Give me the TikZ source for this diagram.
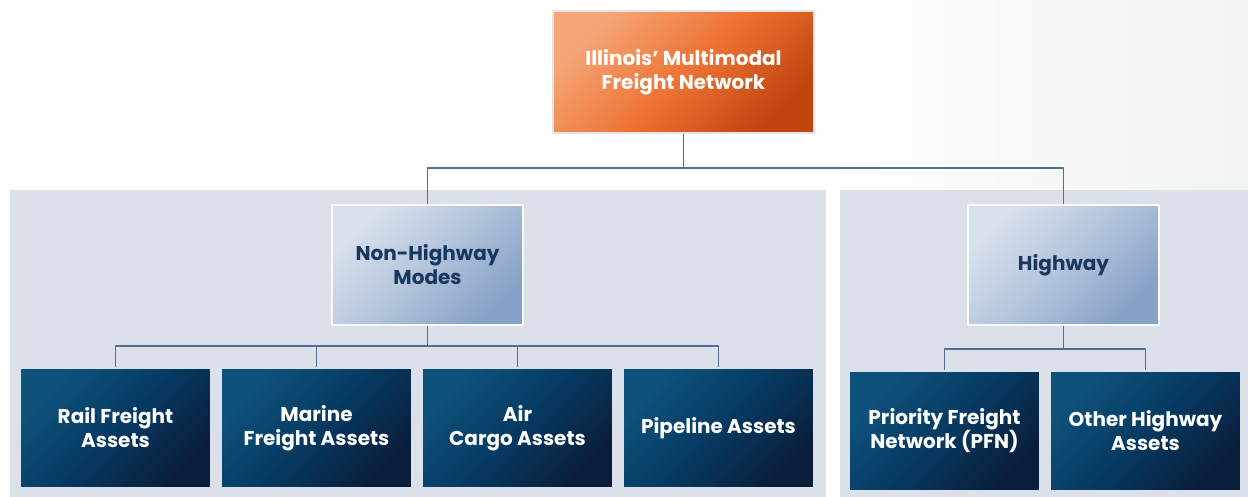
\documentclass[tikz,border=0pt]{standalone}
\usepackage{fontspec}
\setmainfont{Poppins}
\usepackage{tikz}
\usetikzlibrary{shapes,arrows}
\usetikzlibrary{positioning}
\definecolor{orangeA}{HTML}{F5A678}
\definecolor{orangeB}{HTML}{EE7434}
\definecolor{orangeC}{HTML}{BF440E}
\definecolor{steelA}{HTML}{D9E1EC}
\definecolor{steelB}{HTML}{B3C4DB}
\definecolor{steelC}{HTML}{86A2C8}
\definecolor{navyA}{HTML}{0E527B}
\definecolor{navyB}{HTML}{063A62}
\definecolor{navyC}{HTML}{0A1D3A}
\definecolor{panelgray}{HTML}{DCE1E9}
\definecolor{linkblue}{HTML}{4F6F97}
\definecolor{textnavy}{HTML}{17375E}
\definecolor{mintwhite}{HTML}{EFF4F0}

\begin{document}
\begin{tikzpicture}
    [line cap=round,line join=round,x=1pt,y=-1pt,
     box/.style={rectangle,draw=white!80!gray,line width=1.2pt,align=center,
        minimum width=191pt,minimum height=120pt,inner sep=2pt,
        font=\fontsize{20}{24}\selectfont\bfseries},
     rootbox/.style={box,minimum width=261pt,minimum height=122pt,text=white,
        top color=orangeA,bottom color=orangeC,middle color=orangeB,shading angle=45},
     modebox/.style={box,draw=white!85!steelA,text=textnavy,
        top color=steelA,bottom color=steelC,middle color=steelB,shading angle=45},
     assetbox/.style={box,draw=steelA,text=white,
        top color=navyA,bottom color=navyC,middle color=navyB,shading angle=45},
     link/.style={draw=linkblue,line width=1.4pt,line cap=butt}]
\useasboundingbox (0,0) rectangle (1248,497);
%background and panels
\fill[white] (0,0) rectangle (1248,497);
\shade[left color=white,right color=mintwhite] (820,0) rectangle (1248,190);
\fill[panelgray] (10,190) rectangle (826,497);
\fill[panelgray] (840,190) rectangle (1248,497);

%boxes
\node[rootbox] (network) at (683.5,72) {Illinois' Multimodal\\Freight Network};
 \node[modebox] (nonhighway) at (427.5,265) {Non-Highway\\Modes};
 \node[modebox] (highway) at (1063.5,265) {Highway};

  \node[assetbox] (rail) at (115.5,428) {Rail Freight\\Assets};
  \node[assetbox] (marine) at (316.5,428) {Marine\\Freight Assets};
  \node[assetbox] (air) at (517.5,428) {Air\\Cargo Assets};
  \node[assetbox] (pipeline) at (718.5,428) {Pipeline Assets};
  \node[assetbox] (pfn) at (944.5,431) {Priority Freight\\Network (PFN)};
  \node[assetbox] (otherhw) at (1145.5,431) {Other Highway\\Assets};

%connectors
\coordinate (topbar) at (683.5,168);
\coordinate (nhbar) at (427.5,346);
\coordinate (hwbar) at (1063.5,349);
 \draw[link] (network) -- (topbar);
 \draw[link] (topbar) -| (nonhighway);
 \draw[link] (topbar) -| (highway);
 \draw[link] (nonhighway) -- (nhbar);
 \foreach \n in {rail,marine,air,pipeline}
   \draw[link] (nhbar) -| (\n);
 \draw[link] (highway) -- (hwbar);
 \foreach \n in {pfn,otherhw}
   \draw[link] (hwbar) -| (\n);
\end{tikzpicture}
\end{document}
